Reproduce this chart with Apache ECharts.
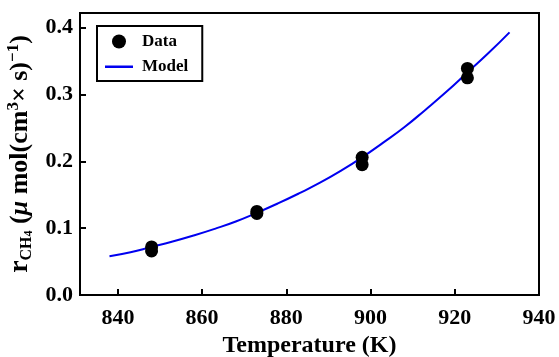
<!DOCTYPE html>
<html>
<head>
<meta charset="utf-8">
<script src="https://cdn.jsdelivr.net/npm/echarts@6/dist/echarts.min.js"></script>
<style>
  html, body { margin: 0; padding: 0; background: #fff; }
  #chart { width: 559px; height: 357px; }
</style>
</head>
<body>
<div id="chart"></div>
<script>
// Measured methane reaction rates (two runs per temperature)
const dataTemps = [848, 848, 873, 873, 898, 898, 923, 923];
const dataRates = [0.072, 0.066, 0.125, 0.122, 0.206, 0.195, 0.339, 0.325];

// Fitted model curve
const modelTemps = [838, 843, 848, 853, 858, 863, 868, 873, 878, 883, 888, 893, 898, 903, 908, 913, 918, 923, 928, 933];
const modelRates = [0.058, 0.064, 0.072, 0.080, 0.089, 0.099, 0.110, 0.123, 0.137, 0.152, 0.168, 0.186, 0.206, 0.228, 0.251, 0.277, 0.304, 0.333, 0.362, 0.393];

// Tick labels
const xTicks = [840, 860, 880, 900, 920, 940];
const yTicks = [0, 0.1, 0.2, 0.3, 0.4];

const serif = '"Liberation Serif", "DejaVu Serif", serif';
const blue = '#0000f0';

// Legend glyph for the model: a thin horizontal bar centred in the icon box
const lineIcon = 'path://M0,0 L0.01,0 Z M0,6 L28,6 L28,8.4 L0,8.4 Z M28,14 L27.99,14 Z';

const chart = echarts.init(document.getElementById('chart'), null, { renderer: 'canvas' });

chart.setOption({
  animation: false,
  backgroundColor: '#fff',
  grid: {
    left: 80, right: 20, top: 13, bottom: 62,
    outerBoundsMode: 'none',
    containLabel: false,
    show: true, borderColor: '#000', borderWidth: 2, backgroundColor: 'transparent'
  },
  legend: {
    left: 97, top: 26,
    orient: 'vertical',
    itemGap: 8,
    itemWidth: 28, itemHeight: 14,
    padding: [7, 14, 6, 8],
    borderColor: '#000', borderWidth: 2,
    textStyle: { fontFamily: serif, fontWeight: 'bold', fontSize: 17, color: '#000', padding: [0, 0, 0, 4] },
    data: [
      { name: 'Data', icon: 'circle', itemStyle: { color: '#000' } },
      { name: 'Model', icon: lineIcon, itemStyle: { color: blue } }
    ]
  },
  xAxis: {
    type: 'value',
    min: 831, max: 940,
    name: 'Temperature (K)',
    nameLocation: 'middle',
    nameGap: 38,
    nameTextStyle: { fontFamily: serif, fontWeight: 'bold', fontSize: 24, color: '#000' },
    axisLine: { show: true, lineStyle: { color: '#000', width: 2 } },
    axisTick: { show: true, inside: true, length: 6, lineStyle: { color: '#000', width: 2 }, customValues: xTicks },
    axisLabel: {
      fontFamily: serif, fontWeight: 'bold', fontSize: 22, color: '#000', margin: 12,
      customValues: xTicks
    },
    splitLine: { show: false }
  },
  yAxis: {
    type: 'value',
    min: 0, max: 0.422,
    name: '{r|r}{sub|CH}{sub2|4}{t| (}{mu|μ}{t| mol(cm}{sup|3}{t|× s)}{sup|−1}{t|)}',
    nameLocation: 'middle',
    nameRotate: 90,
    nameGap: 41,
    nameTextStyle: {
      fontFamily: serif, fontWeight: 'bold', fontSize: 26, color: '#000',
      rich: {
        r: { fontFamily: serif, fontWeight: 'bold', fontSize: 28, color: '#000' },
        sub: { fontFamily: serif, fontWeight: 'bold', fontSize: 16, color: '#000', padding: [13, 0, 0, 0] },
        sub2: { fontFamily: serif, fontWeight: 'bold', fontSize: 12, color: '#000', padding: [17, 0, 0, 0] },
        t: { fontFamily: serif, fontWeight: 'bold', fontSize: 26, color: '#000' },
        mu: { fontFamily: serif, fontWeight: 'bold', fontStyle: 'italic', fontSize: 26, color: '#000' },
        sup: { fontFamily: serif, fontWeight: 'bold', fontSize: 17, color: '#000', padding: [0, 0, 13, 0] }
      }
    },
    axisLine: { show: true, lineStyle: { color: '#000', width: 2 } },
    axisTick: { show: true, inside: true, length: 6, lineStyle: { color: '#000', width: 2 }, customValues: yTicks },
    axisLabel: {
      fontFamily: serif, fontWeight: 'bold', fontSize: 22, color: '#000', margin: 7,
      customValues: yTicks,
      formatter: v => v.toFixed(1)
    },
    splitLine: { show: false }
  },
  series: [
    {
      name: 'Model',
      type: 'line',
      data: modelTemps.map((t, i) => [t, modelRates[i]]),
      smooth: true,
      showSymbol: false,
      symbol: 'none',
      lineStyle: { color: blue, width: 2 },
      itemStyle: { color: blue },
      z: 2
    },
    {
      name: 'Data',
      type: 'scatter',
      data: dataTemps.map((t, i) => [t, dataRates[i]]),
      symbol: 'circle',
      symbolSize: 13,
      itemStyle: { color: '#000', opacity: 1 },
      z: 3
    }
  ]
});
</script>
</body>
</html>
